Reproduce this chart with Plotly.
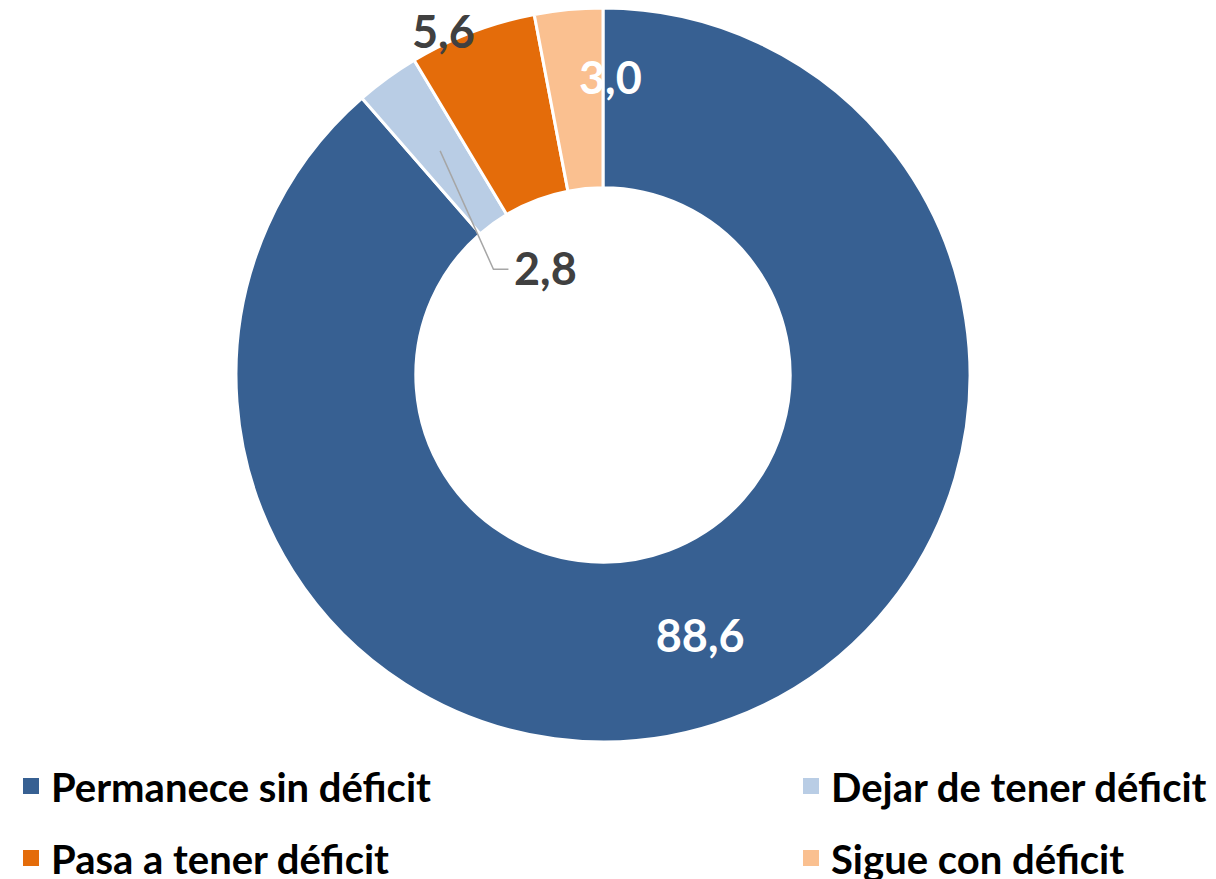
import math
import plotly.graph_objects as go

labels = ["Permanece sin déficit", "Dejar de tener déficit", "Pasa a tener déficit", "Sigue con déficit"]
values = [88.6, 2.8, 5.6, 3.0]
colors = ["#376092", "#B9CDE5", "#E46C0A", "#FAC090"]

# the page body has an 8px margin, so the figure is a bit smaller than the window
PAD = 8
W, H = 1216 - PAD, 879 - PAD
cx, cy, R = 603 - PAD, 375 - PAD, 367
hole = 0.51
FONT = "Lato"


def fmt(v):
    return f"{v:.1f}".replace(".", ",")


# slice angles (clockwise from 12 o'clock)
total = sum(values)
starts, mids = [], []
acc = 0
for v in values:
    a0 = acc / total * 360
    acc += v
    a1 = acc / total * 360
    starts.append(a0)
    mids.append((a0 + a1) / 2)
ends = starts[1:] + [360]


def polar(angle, r):
    a = math.radians(angle)
    x = cx + r * math.sin(a)
    y = cy - r * math.cos(a)
    return x / W, 1 - y / H


fig = go.Figure()
fig.add_trace(go.Pie(
    labels=labels, values=values, sort=False, direction="clockwise", rotation=0,
    hole=hole,
    marker=dict(colors=colors, line=dict(color="white", width=3)),
    text=[fmt(values[0]), "", "", ""], textinfo="text",
    textposition="inside", insidetextorientation="horizontal",
    textfont=dict(family=FONT, size=45, color="white", weight="bold"),
    domain=dict(x=[(cx - R) / W, (cx + R) / W], y=[1 - (cy + R) / H, 1 - (cy - R) / H]),
    showlegend=False, hoverinfo="label+value",
))

# legend entries: 2 x 2 grid, one small legend per entry
legend_ids = ["legend", "legend2", "legend3", "legend4"]
for lab, col, lid in zip(labels, colors, legend_ids):
    fig.add_trace(go.Scatter(
        x=[None], y=[None], mode="markers", name=lab,
        marker=dict(symbol="square", size=16, color=col),
        legend=lid,
    ))

lab_font = dict(family=FONT, size=45, color="#404040", weight="bold")
ring_mid = R * (1 + hole) / 2
YS = 30  # annotation text sits low for this font; lift it back onto its anchor

# 5,6 outside the orange slice
x, y = polar(mids[2] - 4, R * 1.03)
fig.add_annotation(x=x, y=y, xref="paper", yref="paper", text=fmt(values[2]),
                   showarrow=False, font=lab_font, yshift=YS)
# 3,0 near end of peach slice
x, y = polar(ends[3] + 1.5, R * 0.81)
fig.add_annotation(x=x, y=y, xref="paper", yref="paper", text=fmt(values[3]),
                   showarrow=False, font=dict(lab_font, color="white"), yshift=YS)
# 2,8 with leader line into the hole
x0, y0 = polar(mids[1], ring_mid)
x1, y1 = polar(mids[1] - 10, R * 0.415)
x2 = x1 + 15 / W
fig.add_shape(type="path", xref="paper", yref="paper",
              path=f"M {x0},{y0} L {x1},{y1} L {x2},{y1}",
              line=dict(color="#A6A6A6", width=1.5))
fig.add_annotation(x=x2 + 4 / W, y=y1, xref="paper", yref="paper", text=fmt(values[1]),
                   xanchor="left", showarrow=False, font=lab_font, yshift=YS)

leg = dict(orientation="h", xanchor="left", yanchor="middle", bgcolor="rgba(0,0,0,0)",
           font=dict(family=FONT, size=40, color="black", weight="bold"))
col_x = [3 / W, 783 / W]
row_y = [1 - (786 - PAD) / H, 1 - (858 - PAD) / H]
legends = {}
for i, lid in enumerate(legend_ids):
    legends[lid] = dict(leg, x=col_x[i % 2], y=row_y[i // 2])

fig.update_layout(
    width=W, height=H,
    margin=dict(l=0, r=0, t=0, b=0, autoexpand=False),
    paper_bgcolor="white", plot_bgcolor="white",
    separators=",.",
    xaxis=dict(visible=False), yaxis=dict(visible=False),
    **legends,
)

fig.write_html("out.html")
